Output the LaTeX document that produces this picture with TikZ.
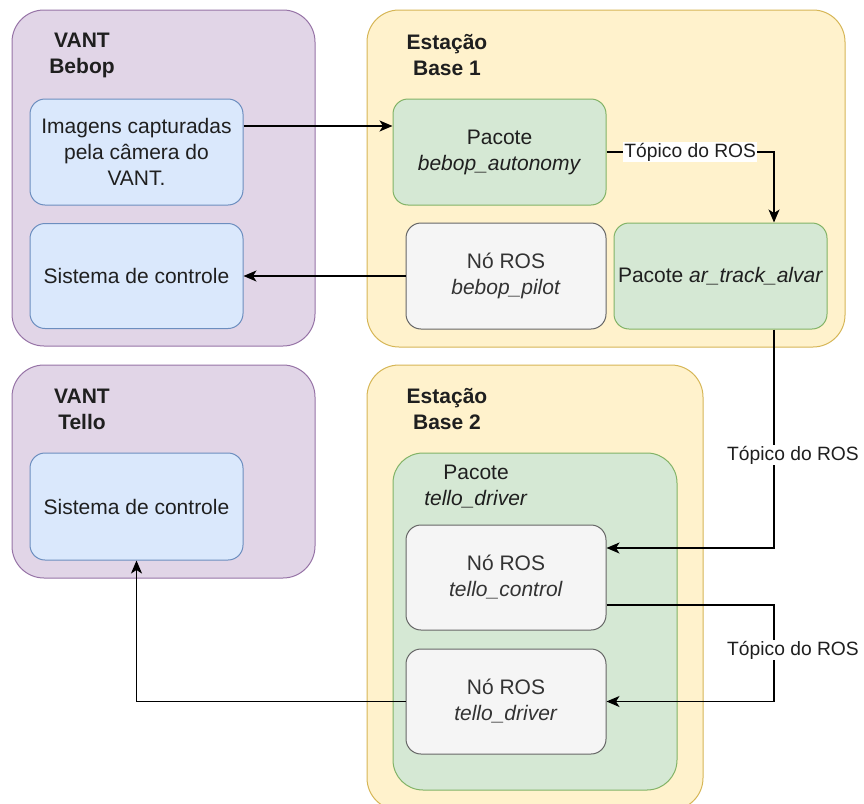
\documentclass[tikz,border=0pt]{standalone}
\usepackage{fontspec}
\setmainfont{Liberation Sans}
\usetikzlibrary{arrows.meta}
\definecolor{pfill}{HTML}{E1D5E7}
\definecolor{pdraw}{HTML}{9673A6}
\definecolor{yfill}{HTML}{FFF2CC}
\definecolor{ydraw}{HTML}{D6B656}
\definecolor{bfill}{HTML}{DAE8FC}
\definecolor{bdraw}{HTML}{6C8EBF}
\definecolor{gfill}{HTML}{D5E8D4}
\definecolor{gdraw}{HTML}{82B366}
\definecolor{qfill}{HTML}{F5F5F5}
\definecolor{qdraw}{HTML}{666666}
\definecolor{qtext}{HTML}{333333}
\definecolor{btext}{HTML}{1F1F1F}
\begin{document}
\begin{tikzpicture}[x=1pt,y=-1pt,
  cont/.style={rectangle, rounded corners=32pt, line width=1pt, inner sep=0pt},
  purplec/.style={cont, fill=pfill, draw=pdraw},
  yellowc/.style={cont, fill=yfill, draw=ydraw},
  box/.style={rectangle, rounded corners=15pt, line width=1pt, inner sep=0pt, align=center,
    font=\fontsize{21}{26}\selectfont},
  bluebox/.style={box, fill=bfill, draw=bdraw, text=btext},
  greenbox/.style={box, fill=gfill, draw=gdraw, text=btext},
  greybox/.style={box, fill=qfill, draw=qdraw, text=qtext},
  ttl/.style={align=center, inner sep=0pt, text=btext, font=\bfseries\fontsize{21}{26}\selectfont},
  lbl/.style={fill=white, inner sep=1pt, text=btext, font=\fontsize{19.25}{23}\selectfont},
  arr/.style={draw=black, line width=1.3pt, -{Stealth[length=13pt,width=11pt,inset=3.5pt]}}
]
\useasboundingbox (0,0) rectangle (864,803);
\clip (0,0) rectangle (864,803);

% containers
\node[purplec, minimum width=303pt, minimum height=336pt] (bebop) at (163.5,178) {};
\node[yellowc, minimum width=478pt, minimum height=337pt] (base1) at (606,178.5) {};
\node[purplec, minimum width=303pt, minimum height=213pt] (tello) at (163.5,471.5) {};
\node[yellowc, minimum width=336pt, minimum height=445pt] (base2) at (535,587.5) {};
\node[cont, rounded corners=30pt, fill=gfill, draw=gdraw, minimum width=284pt, minimum height=337pt] (pkg) at (535,621.5) {};

% titles
\node[ttl] (tbebop) at (82,55) {VANT\\Bebop};
\node[ttl] (tbase1) at (447,55) {Estação\\Base 1};
\node[ttl] (ttello) at (82,409) {VANT\\Tello};
\node[ttl] (tbase2) at (447,409) {Estação\\Base 2};
\node[align=center, inner sep=0pt, text=btext, font=\fontsize{21}{26}\selectfont] (tpkg) at (476,487) {Pacote\\\textit{tello\_driver}};

% boxes
\node[bluebox, minimum width=213pt, minimum height=106pt] (img) at (136.5,152) {Imagens capturadas\\pela câmera do\\VANT.};
\node[bluebox, minimum width=213pt, minimum height=105pt] (sisB) at (136.5,276) {Sistema de controle};
\node[greenbox, minimum width=213pt, minimum height=106pt] (auto) at (499.5,152) {Pacote\\\textit{bebop\_autonomy}};
\node[greybox, minimum width=200pt, minimum height=106pt] (pilot) at (506,276) {Nó ROS\\\textit{bebop\_pilot}};
\node[greenbox, minimum width=213pt, minimum height=106pt] (alvar) at (720.5,276) {Pacote \textit{ar\_track\_alvar}};
\node[bluebox, minimum width=213pt, minimum height=107pt] (sisT) at (136.5,506.5) {Sistema de controle};
\node[greybox, minimum width=200pt, minimum height=105pt] (ctrl) at (506,577.5) {Nó ROS\\\textit{tello\_control}};
\node[greybox, minimum width=200pt, minimum height=105pt] (drv) at (506,701.5) {Nó ROS\\\textit{tello\_driver}};

% connectors
\draw[arr] ([yshift=26pt]img.east) -- ([yshift=26pt]auto.west);
\draw[arr] (auto.east) -| ([xshift=53.5pt]alvar.north) node[lbl, pos=0.25] {Tópico do ROS};
\draw[arr] (pilot.west) -- (sisB.east);
\draw[arr] ([xshift=53.5pt]alvar.south) |- ([yshift=29.5pt]ctrl.east);
\node[lbl] (l2) at (793,455) {Tópico do ROS};
\coordinate (c3) at (774,605);
\draw[arr] ([yshift=-27.5pt]ctrl.east) -- (c3) |- (drv.east);
\node[lbl] (l3) at (793,650) {Tópico do ROS};
\draw[arr] (drv.west) -| (sisT.south);
\end{tikzpicture}
\end{document}
